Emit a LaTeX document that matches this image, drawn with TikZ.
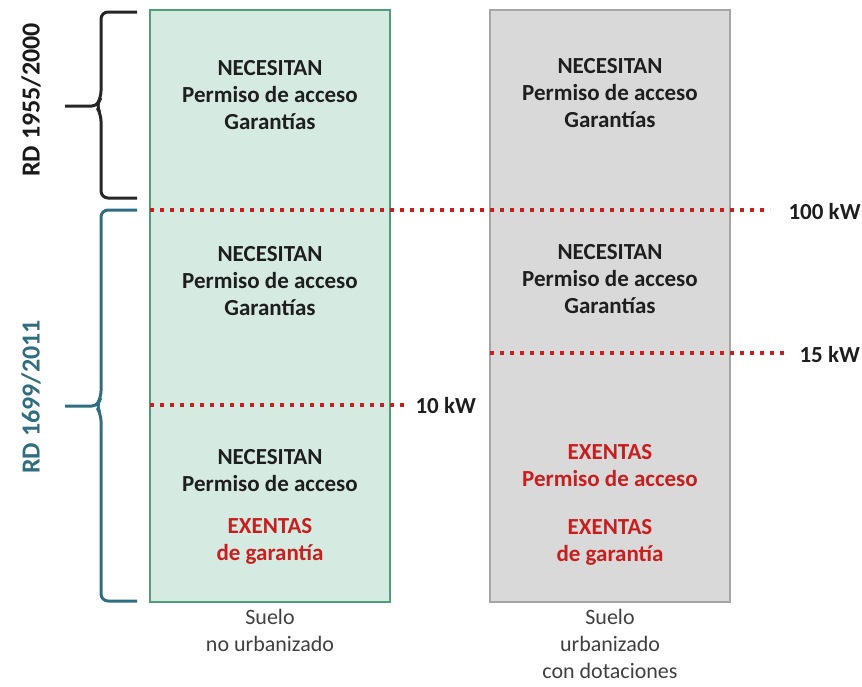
\documentclass[tikz,border=0pt]{standalone}
\usepackage{fontspec}
\setmainfont{Carlito}

\definecolor{boxgreen}{HTML}{D5EBE2}
\definecolor{linegreen}{HTML}{4E9E7A}
\definecolor{boxgray}{HTML}{D9D9D9}
\definecolor{linegray}{HTML}{A6A6A6}
\definecolor{limitred}{HTML}{C81E1E}
\definecolor{rdteal}{HTML}{2F6E80}
\definecolor{darktext}{HTML}{1E1E1E}

\tikzset{
  limit/.style={limitred,line width=4pt,dash pattern=on 4pt off 6pt},
  rdbrace/.style={line width=3pt,rounded corners=7pt},
  txt/.style={font=\fontsize{23}{27}\selectfont\bfseries,text=darktext,align=center},
  ext/.style={txt,text=limitred},
  kw/.style={font=\fontsize{23}{27}\selectfont\bfseries,text=darktext,anchor=west},
  rdlabel/.style={font=\fontsize{26}{30}\selectfont\bfseries,rotate=90},
  suelo/.style={font=\fontsize{22}{27}\selectfont,text=darktext!85,align=center,anchor=north}
}

\begin{document}
\begin{tikzpicture}[x=1pt,y=-1pt]
  \useasboundingbox (0,0) rectangle (862,686);

  % columns
  \draw[linegreen,fill=boxgreen,line width=2.5pt] (150,10) rectangle (390,602);
  \draw[linegray,fill=boxgray,line width=2.5pt] (490,10) rectangle (730,602);

  % limits
  \coordinate (a0) at (150,210);
  \coordinate (a1) at (770,210);
  \coordinate (b0) at (150,405);
  \coordinate (b1) at (408,405);
  \coordinate (c0) at (490,353);
  \coordinate (c1) at (788,353);
  \draw[limit] (a0) -- (a1);
  \draw[limit] (b0) -- (b1);
  \draw[limit] (c0) -- (c1);
  \node[kw] (k100) at (785,212) {100 kW};
  \node[kw] (k10)  at (412,406) {10 kW};
  \node[kw] (k15)  at (796,355) {15 kW};

  % braces
  \draw[rdbrace,black!85] (137,12) -- (101,12) -- (101,98) -- (96,106) -- (101,114) -- (101,198) -- (137,198);
  \draw[rdbrace,black!85,rounded corners=4pt] (101,98) -- (96,106) -- (65,106);
  \draw[rdbrace,rdteal] (137,210) -- (101,210) -- (101,398) -- (96,406) -- (101,414) -- (101,601) -- (137,601);
  \draw[rdbrace,rdteal,rounded corners=4pt] (101,398) -- (96,406) -- (65,406);
  \node[rdlabel,text=black!90] (rd1) at (31,100) {RD 1955/2000};
  \node[rdlabel,text=rdteal] (rd2) at (31,397) {RD 1699/2011};

  % left column
  \node[txt] (l1) at (270,95) {NECESITAN\\Permiso de acceso\\Garantías};
  \node[txt] (l2) at (270,281) {NECESITAN\\Permiso de acceso\\Garantías};
  \node[txt] (l3) at (270,471) {NECESITAN\\Permiso de acceso};
  \node[ext] (l4) at (270,541) {EXENTAS\\de garantía};

  % right column
  \node[txt] (g1) at (610,93) {NECESITAN\\Permiso de acceso\\Garantías};
  \node[txt] (g2) at (610,279) {NECESITAN\\Permiso de acceso\\Garantías};
  \node[ext] (g3) at (610,466) {EXENTAS\\Permiso de acceso};
  \node[ext] (g4) at (610,542) {EXENTAS\\de garantía};

  % captions
  \node[suelo] (c1) at (270,606) {Suelo\\no urbanizado};
  \node[suelo] (c2) at (610,606) {Suelo\\urbanizado\\con dotaciones};

\end{tikzpicture}
\end{document}
